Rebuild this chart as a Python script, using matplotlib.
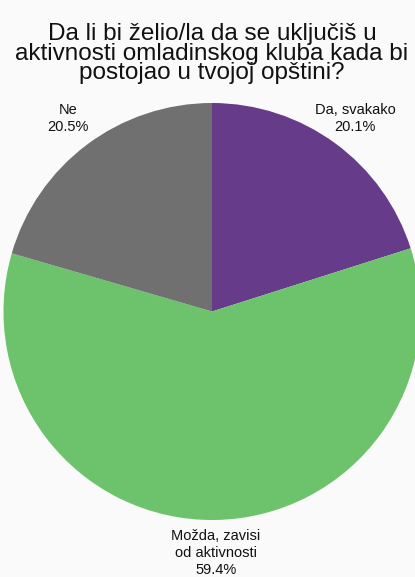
import matplotlib
matplotlib.use("Agg")
import matplotlib.pyplot as plt

# survey answers, clockwise from the top
answers = ["Da, svakako", "Možda, zavisi\nod aktivnosti", "Ne"]
shares = [20.1, 59.4, 20.5]
colors = ["#663b8a", "#6cc36b", "#707070"]
title = "Da li bi želio/la da se uključiš u\naktivnosti omladinskog kluba kada bi\npostojao u tvojoj opštini?"

plt.rcParams['font.family'] = ['Liberation Sans', 'DejaVu Sans']

W, H = 415, 577
fig = plt.figure(figsize=(W / 100, H / 100), dpi=100, facecolor="#fafafa")

# pie centre and radius in pixels (measured from the top-left corner)
cx, cy, r = 212, 311.5, 208.5
ax = fig.add_axes([(cx - r) / W, (H - cy - r) / H, 2 * r / W, 2 * r / H])
ax.set_facecolor("none")
wedges, _ = ax.pie(shares, colors=colors, startangle=90, counterclock=False,
                   radius=1, wedgeprops=dict(linewidth=0))
ax.set_xlim(-1, 1)
ax.set_ylim(-1, 1)
ax.axis("off")

fig.text(212 / W, 1 - 23 / H, title, ha="center", va="top", fontsize=17.5,
         linespacing=0.86, color="#111111")

# label positions (pixel centre x, top y)
label_pos = [(355, 103), (216, 529), (68, 103)]
for name, val, (px, py) in zip(answers, shares, label_pos):
    fig.text(px / W, 1 - py / H, f"{name}\n{val}%", ha="center", va="top",
             fontsize=10.5, linespacing=1.25, color="#111111")

fig.savefig("out.png", dpi=100, facecolor=fig.get_facecolor())
